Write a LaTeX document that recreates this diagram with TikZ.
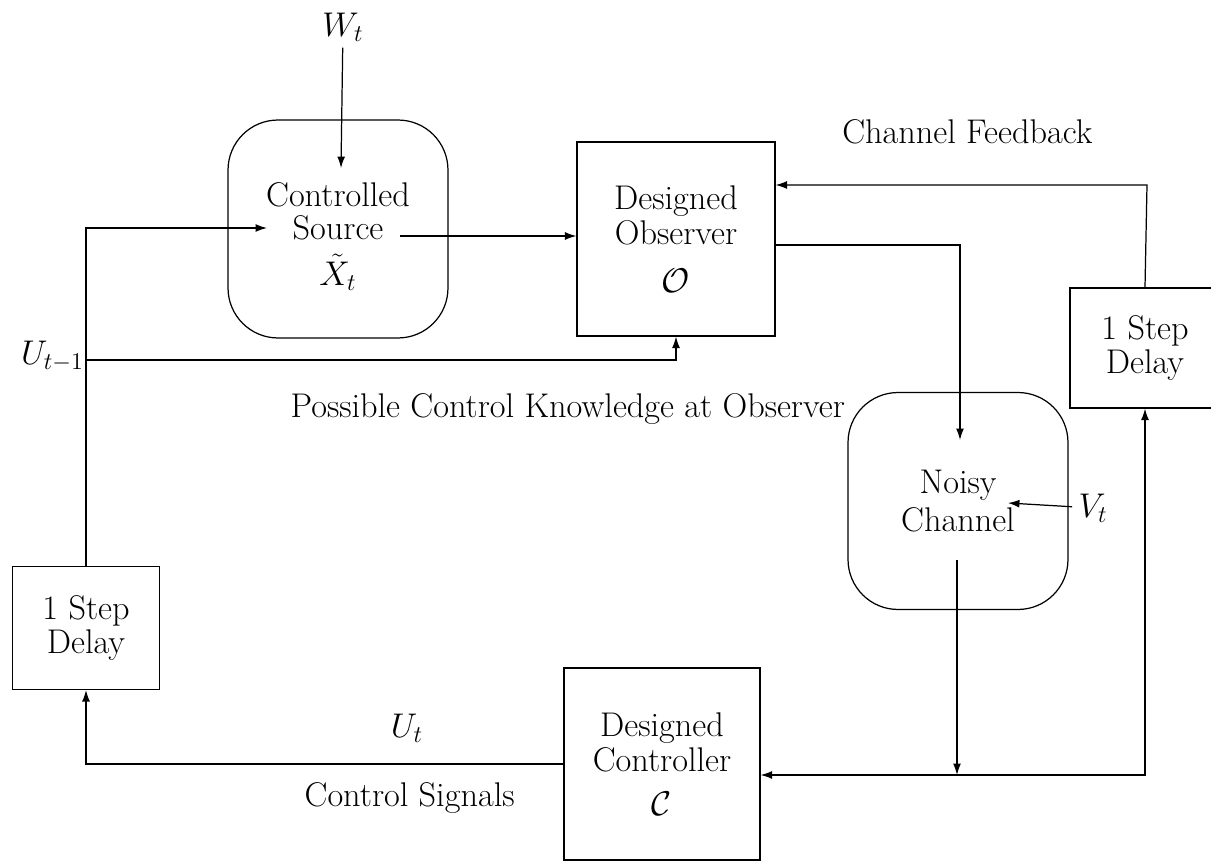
\RequirePackage{fix-cm}
\documentclass[tikz,border=0pt]{standalone}
\usetikzlibrary{arrows.meta}
\begin{document}
\begin{tikzpicture}[x=0.02cm,y=-0.02cm,line width=0.7pt,>={Latex[length=6.5pt,width=4.5pt]},
  font=\fontsize{19.5}{19}\selectfont,
  blk/.style={draw,align=center,inner sep=0pt},
  rblk/.style={blk,rounded corners=1cm}]
  \useasboundingbox (0,0) rectangle (1211,864);
  % blocks
  \node[rblk,minimum width=4.4cm,minimum height=4.36cm] (src) at (338,229) {\rule{0pt}{22pt}Controlled\\Source\\[7pt]$\tilde{X}_t$};
  \node[blk,minimum width=3.96cm,minimum height=3.88cm] (obs) at (676,239) {Designed\\[1pt]Observer\\[8pt]$\mathcal{O}$};
  \node[rblk,minimum width=4.4cm,minimum height=4.34cm] (chan) at (958,501) {Noisy\\[3pt]Channel};
  \node[blk,minimum width=3.92cm,minimum height=3.84cm] (ctrl) at (662,764) {Designed\\[1pt]Controller\\[6pt]$\mathcal{C}$};
  \node[blk,minimum width=3cm,minimum height=2.4cm] (rdel) at (1145,348) {1 Step\\Delay};
  \node[blk,minimum width=2.94cm,minimum height=2.46cm] (ldel) at (86,628) {1 Step\\Delay};
  % labels
  \node (wt) at (343,27) {$W_t$};
  \node (vt) at (1093,508) {$V_t$};
  \node[anchor=east,inner sep=1pt] (utm) at (86,356) {$U_{t-1}$};
  \node (ut) at (407,728) {$U_t$};
  \node[anchor=east,inner sep=0pt] (fbl) at (1093,132) {Channel Feedback};
  \node[anchor=west,inner sep=0pt] (pck) at (290,409) {Possible Control Knowledge at Observer};
  \node[anchor=west,inner sep=0pt] (csl) at (304,798) {Control Signals};
  % junction points
  \coordinate (wtin) at (341,168);
  \coordinate (srcin) at (267,228);
  \coordinate (srcout) at (400,236);
  \coordinate (fbk) at (1147,185);
  \coordinate (obsout) at (776,245);
  \coordinate (chin) at (960,440);
  \coordinate (vtin) at (1008,503);
  \coordinate (chout) at (957,560);
  \coordinate (junc) at (957,775);
  \coordinate (ukn) at (86,360);
  % connectors
  \draw[->] (wt) -- (wtin);
  \draw[->] (ldel.north) |- (srcin);
  \draw[->] (srcout) -- (srcout -| obs.west);
  \draw[->] (rdel.north) -- (fbk) -- (fbk -| obs.east);
  \draw[->] (obsout -| obs.east) -| (chin);
  \draw[->] (vt) -- (vtin);
  \draw[->] (chout) -- (junc);
  \draw[->] (junc) -- (junc -| ctrl.east);
  \draw[->] (junc) -| (rdel.south);
  \draw[->] (ctrl.west) -| (ldel.south);
  \draw[->] (ukn) -| (obs.south);
\end{tikzpicture}
\end{document}
